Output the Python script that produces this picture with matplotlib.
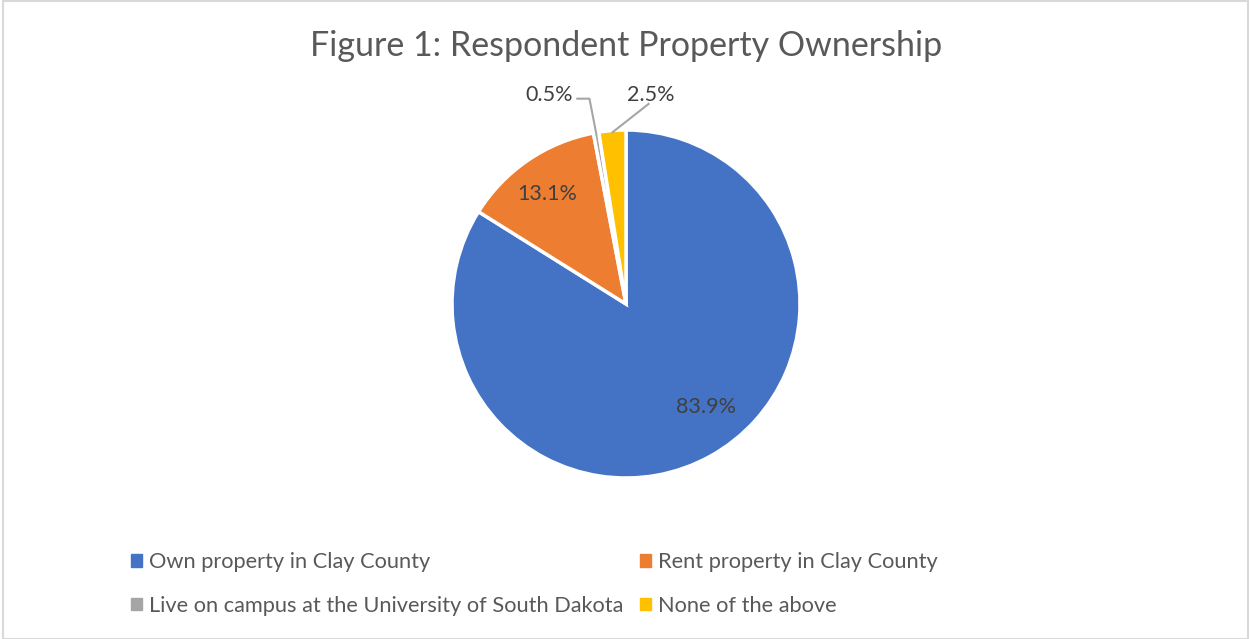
import matplotlib.pyplot as plt
from matplotlib.patches import Rectangle
import numpy as np

plt.rcParams['font.family'] = ['Lato', 'DejaVu Sans']

labels = ['Own property in Clay County', 'Rent property in Clay County',
          'Live on campus at the University of South Dakota', 'None of the above']
shares = [83.9, 13.1, 0.5, 2.5]
colors = ['#4472C4', '#ED7D31', '#A5A5A5', '#FFC000']
txt = '#595959'
lbl = '#404040'

W, H = 1250, 639
fig = plt.figure(figsize=(W / 100, H / 100), dpi=100)
fig.patches.append(Rectangle((0.002, 0.0), 0.996, 0.998, transform=fig.transFigure,
                             fill=False, edgecolor='#D9D9D9', linewidth=1.5))

fig.text(626 / W, 1 - 46 / H, 'Figure 1: Respondent Property Ownership',
         ha='center', va='center', fontsize=24.5, color=txt)

# pie axes: centre (626, 304) px, radius 174 px
cx, cy, r = 626, 304, 174
ax = fig.add_axes([(cx - r) / W, 1 - (cy + r) / H, 2 * r / W, 2 * r / H])
wedges, _ = ax.pie(shares, colors=colors, startangle=90, counterclock=False,
                   radius=1, wedgeprops=dict(edgecolor='white', linewidth=2.5))
ax.set_xlim(-1, 1)
ax.set_ylim(-1, 1)
ax.set_aspect('equal')
ax.axis('off')

# inside labels
ax.text(0.46, -0.59, '83.9%', ha='center', va='center', fontsize=15.5, color=lbl)
ax.text(-0.45, 0.63, '13.1%', ha='center', va='center', fontsize=15.5, color=lbl)

# outside labels with leader lines
for w, s, pos, elbow in [(wedges[2], '0.5%', (-0.44, 1.20), (-0.21, 1.18)),
                         (wedges[3], '2.5%', (0.14, 1.20), None)]:
    ang = np.deg2rad((w.theta1 + w.theta2) / 2)
    ex, ey = 0.99 * np.cos(ang), 0.99 * np.sin(ang)
    ax.text(pos[0], pos[1], s, ha='center', va='center', fontsize=15.5, color=lbl,
            clip_on=False)
    if elbow is not None:
        xs = [pos[0] + 0.16, elbow[0], ex]
        ys = [elbow[1], elbow[1], ey]
    else:
        xs = [pos[0] - 0.01, ex]
        ys = [pos[1] - 0.05, ey]
    ax.plot(xs, ys, color='#A6A6A6', linewidth=1.5, clip_on=False)

order = [0, 2, 1, 3]
handles = [Rectangle((0, 0), 1, 1, color=colors[i]) for i in order]
fig.legend(handles, [labels[i] for i in order], ncol=2, loc='center left',
           bbox_to_anchor=(111 / W, 1 - 584 / H), frameon=False, fontsize=15.7,
           labelcolor=txt, handlelength=0.5, handleheight=0.5, handletextpad=0.35,
           columnspacing=0.75, labelspacing=1.08)

fig.savefig('out.png', dpi=100)
